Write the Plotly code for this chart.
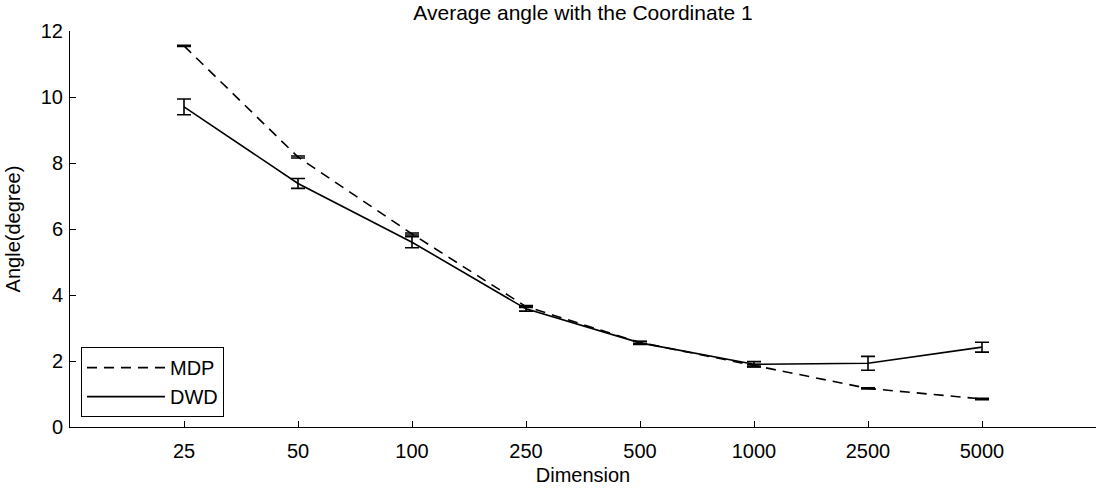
import plotly.graph_objects as go

dims = ["25", "50", "100", "250", "500", "1000", "2500", "5000"]
xpos = [1, 2, 3, 4, 5, 6, 7, 8]
mdp = [11.55, 8.18, 5.85, 3.65, 2.56, 1.86, 1.17, 0.85]
mdp_err = [0.02, 0.03, 0.03, 0.03, 0.03, 0.03, 0.02, 0.02]
dwd = [9.70, 7.38, 5.60, 3.58, 2.55, 1.90, 1.93, 2.42]
dwd_err = [0.24, 0.15, 0.17, 0.07, 0.05, 0.08, 0.21, 0.15]

fig = go.Figure()
fig.add_trace(go.Scatter(
    x=xpos, y=mdp, mode="lines", name="MDP",
    line=dict(color="black", width=1.6, dash="10px,7px"),
    error_y=dict(type="data", array=mdp_err, visible=True, color="black", thickness=1.6, width=7),
))
fig.add_trace(go.Scatter(
    x=xpos, y=dwd, mode="lines", name="DWD",
    line=dict(color="black", width=1.6),
    error_y=dict(type="data", array=dwd_err, visible=True, color="black", thickness=1.6, width=7),
))

fnt = "Liberation Sans, Arial, sans-serif"
fs = 20
fig.update_layout(
    width=1116, height=489,
    margin=dict(l=70, r=20, t=31, b=62, autoexpand=False),
    paper_bgcolor="white", plot_bgcolor="white",
    font=dict(family=fnt, size=fs, color="black"),
    title=dict(text="Average angle with the Coordinate 1", x=0.5, xref="paper", xanchor="center",
               y=0.974, yref="container", yanchor="middle", font=dict(size=21)),
    showlegend=True,
    legend=dict(x=0.0107, y=0.025, xanchor="left", yanchor="bottom",
                bordercolor="black", borderwidth=1, bgcolor="white",
                font=dict(size=fs), itemwidth=78, tracegroupgap=0),
    xaxis=dict(range=[0, 9], tickvals=[0] + xpos + [9], ticktext=[""] + dims + [""],
               showgrid=False, zeroline=False, automargin=False,
               showline=True, linecolor="black", linewidth=1, ticks="inside", ticklen=6,
               tickcolor="black", mirror=False, ticklabelstandoff=6,
               tickfont=dict(size=fs),
               title=dict(text="Dimension", standoff=6, font=dict(size=fs))),
    yaxis=dict(range=[0, 12], tickvals=[0, 2, 4, 6, 8, 10, 12], showgrid=False, zeroline=False,
               automargin=False,
               showline=True, linecolor="black", linewidth=1, ticks="inside", ticklen=6,
               tickcolor="black", mirror=False, ticklabelstandoff=2,
               tickfont=dict(size=fs),
               title=dict(text="Angle(degree)", standoff=14, font=dict(size=fs))),
)

fig.write_html("out.html")
